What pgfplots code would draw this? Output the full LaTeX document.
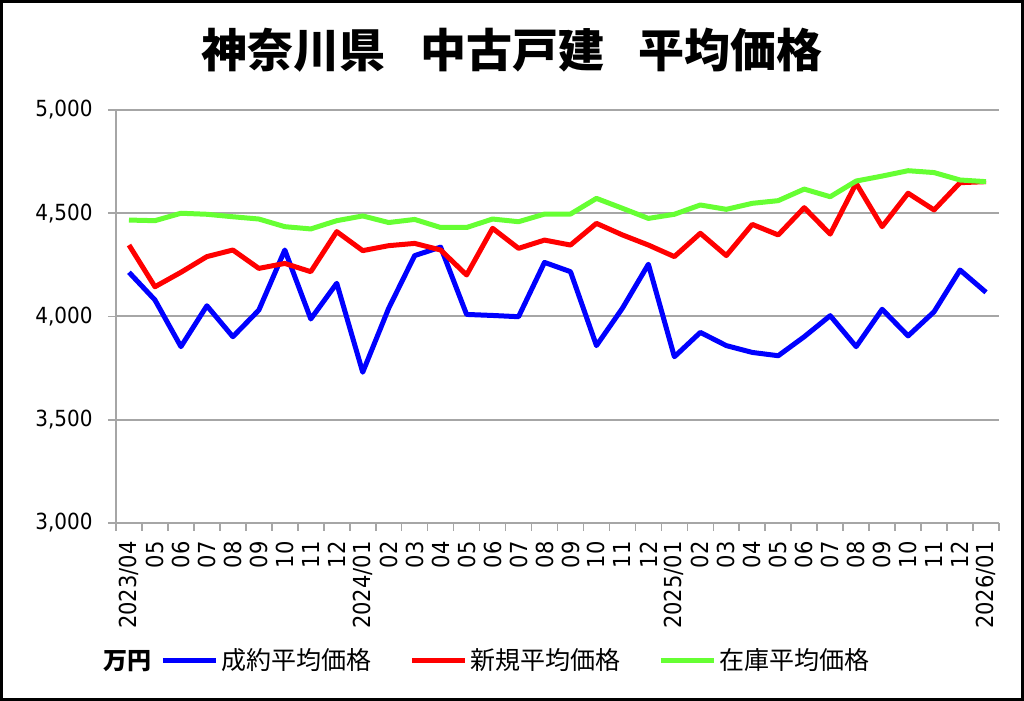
\documentclass[border=0pt]{standalone}
\usepackage{fontspec}
\setmainfont{DejaVu Sans Condensed}
\newfontfamily\cjk{Noto Sans CJK JP}
\usepackage{pgfplots}
\usepackage{pgfplotstable}
\pgfplotsset{compat=1.18}
\definecolor{cblue}{RGB}{0,0,255}
\definecolor{cred}{RGB}{255,0,0}
\definecolor{cgreen}{RGB}{102,255,51}
\pgfplotstableread{
x blue red green
0 4214 4346 4467
1 4080 4144 4464
2 3854 4214 4500
3 4052 4290 4495
4 3902 4322 4483
5 4031 4233 4472
6 4322 4257 4435
7 3988 4217 4424
8 4161 4411 4464
9 3730 4319 4487
10 4040 4343 4455
11 4295 4354 4470
12 4336 4322 4431
13 4010 4201 4431
14 4005 4427 4472
15 3999 4330 4459
16 4262 4370 4496
17 4217 4346 4496
18 3859 4451 4572
19 4040 4395 4524
20 4253 4346 4475
21 3805 4290 4495
22 3923 4403 4540
23 3859 4295 4519
24 3826 4446 4548
25 3810 4395 4561
26 3902 4527 4617
27 4004 4399 4580
28 3854 4645 4656
29 4035 4435 4680
30 3906 4597 4706
31 4023 4516 4697
32 4225 4648 4661
33 4117 4653 4653
}\data
\begin{document}
\begin{tikzpicture}[x=1pt,y=1pt]
\useasboundingbox (0,0) rectangle (512,350.5);
\draw[line width=1.5pt] (0.75,0.75) rectangle (511.25,349.75);
\node[font=\cjk\bfseries\fontsize{23}{27}\selectfont] at (256,325.5) {神奈川県\hspace{0.75em}中古戸建\hspace{0.75em}平均価格};
\node[font=\cjk\bfseries\fontsize{12}{14}\selectfont] at (64,20) {万円};
\begin{axis}[
  at={(58pt,89pt)}, anchor=south west,
  scale only axis, width=441.5pt, height=206.5pt,
  xmin=-0.5, xmax=33.5, ymin=3000, ymax=5000,
  ytick={3000,3500,4000,4500,5000},
  xtick={-0.5,0.5,...,33.5}, xticklabels={},
  extra x ticks={0,...,33},
  extra x tick labels={2023/04,05,06,07,08,09,10,11,12,2024/01,02,03,04,05,06,07,08,09,10,11,12,2025/01,02,03,04,05,06,07,08,09,10,11,12,2026/01},
  extra x tick style={major tick length=0pt, tick style={draw=none},
     tick label style={rotate=90, anchor=east, inner sep=0pt, font=\fontsize{11.7}{14}\selectfont}},
  xticklabel shift=9pt,
  axis x line*=bottom, axis y line*=left,
  axis line style={gray!70, line width=1pt, -},
  ymajorgrids, grid style={gray!70, line width=1pt},
  tick style={gray!70, line width=0.8pt},
  tick align=outside, major tick length=4pt,
  yticklabel style={font=\fontsize{11.1}{14}\selectfont, inner sep=0pt},
  yticklabel shift=7.5pt,
  /pgf/number format/.cd, 1000 sep={,}, assume math mode=true,
  /pgfplots/.cd,
  legend columns=3,
  legend image code/.code={\draw[#1] (0pt,0pt) -- (26.5pt,0pt);},
  legend style={at={(axis description cs:0.0498,-0.334)}, anchor=west,
     draw=none, fill=none, inner sep=0pt, column sep=0.5pt,
     nodes={inner sep=1pt},
     font=\cjk\fontsize{12.5}{15}\selectfont,
     /tikz/every even column/.append style={column sep=18pt}},
]
\addplot[cblue, line width=2.5pt, line join=round] table[x=x,y=blue] {\data};
\addlegendentry{成約平均価格}
\addplot[cred, line width=2.5pt, line join=round] table[x=x,y=red] {\data};
\addlegendentry{新規平均価格}
\addplot[cgreen, line width=2.5pt, line join=round] table[x=x,y=green] {\data};
\addlegendentry{在庫平均価格}
\end{axis}
\end{tikzpicture}
\end{document}
